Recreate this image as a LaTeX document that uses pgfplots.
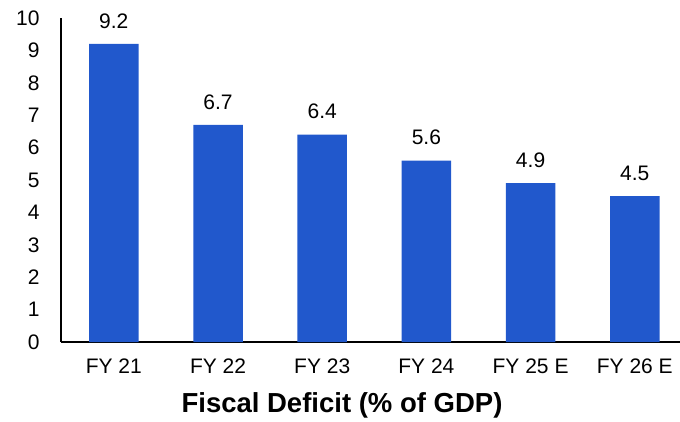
\documentclass[border=0pt]{standalone}
\usepackage{pgfplots}
\pgfplotsset{compat=1.18}
\usepackage{fontspec}
\setmainfont{Liberation Sans}
\definecolor{barblue}{RGB}{33,88,204}
\begin{document}
\begin{tikzpicture}
\useasboundingbox (-61pt,-79pt) rectangle (619pt,342pt);
\begin{axis}[
  at={(0pt,0pt)}, anchor=south west,
  scale only axis, width=619pt, height=324pt,
  xmin=-0.507, xmax=5.434, ymin=0, ymax=10,
  axis x line=bottom, axis y line=left,
  axis line style={-, line width=2pt, black},
  x axis line style={line width=2.5pt},
  ytick={0,1,...,10},
  xtick={0,1,2,3,4,5},
  xticklabels={FY 21, FY 22, FY 23, FY 24, FY 25 E, FY 26 E},
  major tick length=0pt,
  tick label style={font=\fontsize{21}{21}\selectfont},
  /pgf/number format/assume math mode=true,
  yticklabel style={xshift=-18pt},
  xticklabel style={yshift=-13pt},
  ybar, bar width=49.5pt,
  point meta=explicit symbolic,
  nodes near coords,
  nodes near coords style={font=\fontsize{21}{21}\selectfont, anchor=south, yshift=12pt},
  clip=false,
]
\addplot[draw=none, fill=barblue] coordinates {
  (0,9.2) [9.2]
  (1,6.7) [6.7]
  (2,6.4) [6.4]
  (3,5.6) [5.6]
  (4,4.9) [4.9]
  (5,4.5) [4.5]
};
\end{axis}
\node[font=\bfseries\fontsize{27.5}{27.5}\selectfont, anchor=base] at (281pt,-70pt) {Fiscal Deficit (\% of GDP)};
\end{tikzpicture}
\end{document}
